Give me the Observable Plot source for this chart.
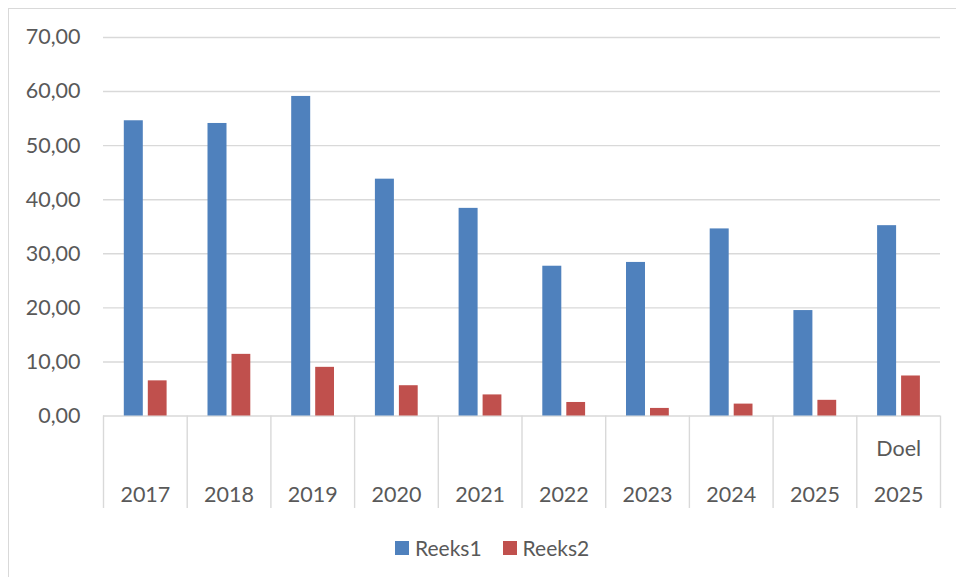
<!DOCTYPE html>
<html>
<head>
<meta charset="utf-8">
<script src="https://cdn.jsdelivr.net/npm/d3@7"></script>
<script src="https://cdn.jsdelivr.net/npm/@observablehq/plot@0.6"></script>
<style>
  html, body { margin: 0; padding: 0; background: #fff; }
  #wrap { position: relative; width: 956px; height: 577px; overflow: hidden; font-family: Lato, "Open Sans", sans-serif; }
  #border { position: absolute; left: 8px; top: 8px; width: 1000px; height: 1000px; border-left: 1px solid #d9d9d9; border-top: 1px solid #d9d9d9; }
  #chart { position: absolute; left: 0; top: 0; }
  #legend { position: absolute; left: 395px; top: 535px; display: flex; align-items: center; gap: 21px; color: #595959; font-size: 21px; }
  .item { display: flex; align-items: center; gap: 6px; }
  .sw { width: 14px; height: 14px; display: inline-block; }
</style>
</head>
<body>
<div id="wrap">
  <div id="border"></div>
  <div id="chart"></div>
  <div id="legend"></div>
</div>
<script>
const categories = ["2017", "2018", "2019", "2020", "2021", "2022", "2023", "2024", "2025", "Doel 2025"];
const tickLabels = ["2017", "2018", "2019", "2020", "2021", "2022", "2023", "2024", "2025", "Doel\n2025"];
const seriesNames = ["Reeks1", "Reeks2"];
const seriesColors = ["#4F81BD", "#C0504D"];
const reeks1 = [54.6, 54.1, 59.1, 43.8, 38.4, 27.7, 28.4, 34.6, 19.5, 35.2];
const reeks2 = [6.5, 11.4, 9.0, 5.6, 3.9, 2.5, 1.4, 2.2, 2.9, 7.4];
const yTicks = [0, 10, 20, 30, 40, 50, 60, 70];

const W = 956, H = 520;
const mL = 103, mR = 16, mT = 37, mB = 104.5;
const bw = (W - mL - mR) / categories.length;

const rows = categories.map((c, i) => ({cat: c, label: tickLabels[i], r1: reeks1[i], r2: reeks2[i]}));
const fmt = d => d.toFixed(2).replace(".", ",");

const chart = Plot.plot({
  width: W, height: H,
  marginLeft: mL, marginRight: mR, marginTop: mT, marginBottom: mB,
  style: {fontFamily: "Lato, 'Open Sans', sans-serif", fontSize: "21.5px", color: "#595959", background: "transparent"},
  x: {type: "band", domain: categories, paddingInner: 0, paddingOuter: 0, round: false, axis: null},
  y: {domain: [0, 70], axis: null},
  marks: [
    Plot.gridY(yTicks, {stroke: "#d9d9d9", strokeOpacity: 1, strokeWidth: 1.4}),
    Plot.axisY(yTicks, {tickSize: 0, tickPadding: 23, tickFormat: fmt, fill: "#595959", fontSize: 21.5}),
    Plot.ruleX(categories, {x: d => d, y1: 0, y2: -17.1, dx: -bw / 2, stroke: "#d9d9d9", strokeWidth: 1.4}),
    Plot.ruleX([categories[categories.length - 1]], {x: d => d, y1: 0, y2: -17.1, dx: bw / 2, stroke: "#d9d9d9", strokeWidth: 1.4}),
    Plot.barY(rows, {x: "cat", y: "r1", fill: seriesColors[0], insetLeft: 20.8, insetRight: bw - 39.8}),
    Plot.barY(rows, {x: "cat", y: "r2", fill: seriesColors[1], insetLeft: 44.8, insetRight: bw - 63.6}),
    Plot.text(rows, {x: "cat", y: () => 0, text: "label", lineAnchor: "bottom", lineHeight: 2.17, dy: 86.2, fill: "#595959", fontSize: 21.5})
  ]
});
document.getElementById("chart").appendChild(chart);

const legend = document.getElementById("legend");
seriesNames.forEach((n, i) => {
  const it = document.createElement("div");
  it.className = "item";
  const sw = document.createElement("span");
  sw.className = "sw";
  sw.style.background = seriesColors[i];
  const t = document.createElement("span");
  t.textContent = n;
  it.appendChild(sw); it.appendChild(t);
  legend.appendChild(it);
});
</script>
</body>
</html>
